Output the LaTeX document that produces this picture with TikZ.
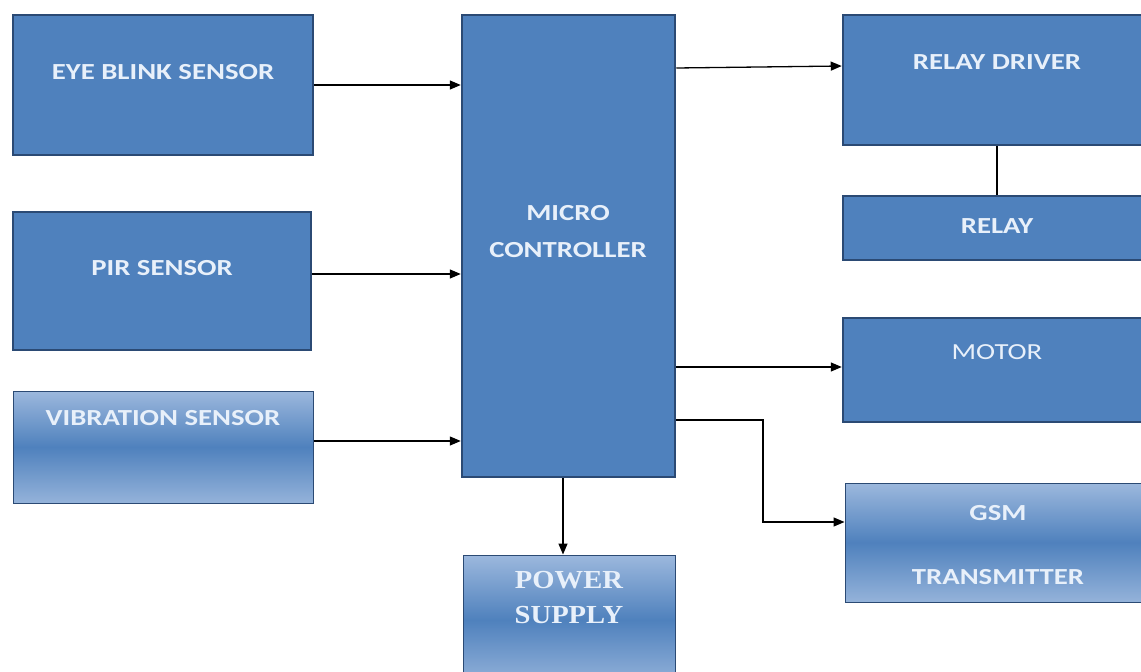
\documentclass[tikz,border=0pt]{standalone}
\usepackage{fontspec}
\setmainfont{Carlito}[FakeStretch=1.25]
\newfontfamily\serifbold{Liberation Serif}[FakeStretch=1.1]
\usetikzlibrary{arrows.meta}
\definecolor{boxfill}{HTML}{4F81BD}
\definecolor{boxedge}{HTML}{2B4A74}
\definecolor{boxlight}{HTML}{9CB8DD}
\definecolor{txtcol}{HTML}{E8F0FA}
\tikzset{
  solidbox/.style={draw=boxedge, line width=2.5pt, fill=boxfill, inner sep=0pt},
  gradbox/.style={draw=boxedge, line width=1pt, inner sep=0pt, top color=boxlight, bottom color=boxlight!90!boxfill, middle color=boxfill},
  lbl/.style={text=txtcol, font=\bfseries\fontsize{23}{28}\selectfont, inner sep=0pt},
  lblreg/.style={text=txtcol, font=\fontsize{23}{28}\selectfont, inner sep=0pt},
  lblserif/.style={text=txtcol, font=\serifbold\bfseries\fontsize{26}{35}\selectfont, inner sep=0pt, align=center},
  conn/.style={line width=1.3pt, draw=black},
  arr/.style={conn, -{Triangle[length=11pt,width=9pt]}}
}
\begin{document}
\begin{tikzpicture}[x=1pt,y=-1pt]
\useasboundingbox (0,0) rectangle (1141,672);
% boxes
\node[solidbox, minimum width=300pt, minimum height=140pt] (eye) at (163,85) {};
\node[solidbox, minimum width=298pt, minimum height=138pt] (pir) at (162,281) {};
\node[gradbox, minimum width=300pt, minimum height=112pt] (vib) at (163,447) {};
\node[solidbox, minimum width=213pt, minimum height=462pt] (mcu) at (568.5,246) {};
\node[gradbox, minimum width=212pt, minimum height=130pt] (pwr) at (569,620) {};
\node[solidbox, minimum width=308pt, minimum height=130pt] (rdrv) at (997,80) {};
\node[solidbox, minimum width=308pt, minimum height=64pt] (relay) at (997,228) {};
\node[solidbox, minimum width=308pt, minimum height=104pt] (motor) at (997,370) {};
\node[gradbox, minimum width=306pt, minimum height=119pt] (gsm) at (998,542.5) {};
% labels
\node[lbl] (eyeT) at (163,72) {EYE BLINK SENSOR};
\node[lbl] (pirT) at (162,268) {PIR SENSOR};
\node[lbl] (vibT) at (163,418) {VIBRATION SENSOR};
\node[lbl] (mcuT1) at (568,213) {MICRO};
\node[lbl] (mcuT2) at (568,250) {CONTROLLER};
\node[lblserif] (pwrT) at (569,598) {POWER\\SUPPLY};
\node[lbl] (rdrvT) at (997,62) {RELAY DRIVER};
\node[lbl] (relayT) at (997,226) {RELAY};
\node[lblreg] (motorT) at (997,352) {MOTOR};
\node[lbl] (gsmT1) at (998,513) {GSM};
\node[lbl] (gsmT2) at (998,577) {TRANSMITTER};
% connectors
\draw[arr] (eye.east |- 0,85) -- (mcu.west |- 0,85);
\draw[arr] (pir.east |- 0,274) -- (mcu.west |- 0,274);
\draw[arr] (vib.east |- 0,441) -- (mcu.west |- 0,441);
\draw[arr] (mcu.east |- 0,68) -- (rdrv.west |- 0,66);
\draw[conn] (rdrv.south) -- (relay.north);
\draw[arr] (mcu.east |- 0,367) -- (motor.west |- 0,367);
\coordinate (g1) at (763,420);
\coordinate (g2) at (763,522);
\draw[arr] (mcu.east |- g1) -- (g1) -- (g2) -- (gsm.west |- g2);
\draw[arr] (mcu.south -| 563,0) -- (pwr.north -| 563,0);
\end{tikzpicture}
\end{document}
